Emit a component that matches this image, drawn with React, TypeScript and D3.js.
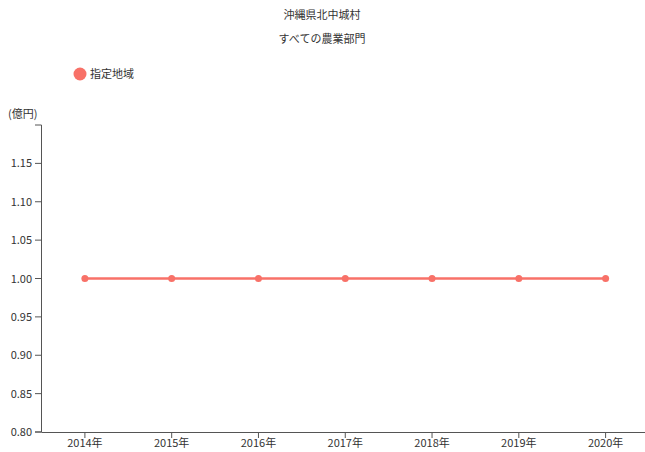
import React from "react";
import * as d3 from "d3";

const years = ["2014年", "2015年", "2016年", "2017年", "2018年", "2019年", "2020年"];
const values = [1.0, 1.0, 1.0, 1.0, 1.0, 1.0, 1.0];
const yTicks = [0.8, 0.85, 0.9, 0.95, 1.0, 1.05, 1.1, 1.15];
const title1 = "沖縄県北中城村";
const title2 = "すべての農業部門";
const legendLabel = "指定地域";
const unitLabel = "(億円)";

const W = 645, H = 452;
const color = "#f87168";
const font = "'Noto Sans CJK JP', sans-serif";

export default function App() {
  const x = d3.scalePoint<string>().domain(years).range([41.5, 649]).padding(0.5);
  const y = d3.scaleLinear().domain([0.8, 1.2]).range([432, 125]);
  const line = d3.line<number>().x((_, i) => x(years[i])!).y((d) => y(d));
  return (
    <svg width={W} height={H} style={{ position: "absolute", left: 0, top: 0, fontFamily: font }}>
      <text x={322} y={19} fontSize={11} textAnchor="middle" fill="#333">{title1}</text>
      <text x={322} y={43} fontSize={11} textAnchor="middle" fill="#333">{title2}</text>
      <circle cx={80} cy={74} r={6.5} fill={color} />
      <text x={90} y={78} fontSize={11} fill="#333">{legendLabel}</text>
      <text x={8} y={118} fontSize={11} fill="#333">{unitLabel}</text>
      {/* y axis */}
      <path d={`M35,${y(1.2)}H41.5V${y(0.8)}H35`} fill="none" stroke="#555" strokeWidth={1} />
      {yTicks.map((t) => (
        <g key={t}>
          <line x1={35} x2={41.5} y1={y(t)} y2={y(t)} stroke="#555" />
          <text x={32} y={y(t) + 4} fontSize={11} textAnchor="end" fill="#333">{t.toFixed(2)}</text>
        </g>
      ))}
      {/* x axis */}
      <line x1={41.5} x2={W} y1={y(0.8) + 0.5} y2={y(0.8) + 0.5} stroke="#555" />
      {years.map((yr) => (
        <g key={yr}>
          <line x1={x(yr)} x2={x(yr)} y1={y(0.8)} y2={y(0.8) + 6} stroke="#555" />
          <text x={x(yr)} y={447} fontSize={11} textAnchor="middle" fill="#333">{yr}</text>
        </g>
      ))}
      <path d={line(values)!} fill="none" stroke={color} strokeWidth={2.5} />
      {values.map((v, i) => (
        <circle key={i} cx={x(years[i])} cy={y(v)} r={3.5} fill={color} />
      ))}
    </svg>
  );
}
